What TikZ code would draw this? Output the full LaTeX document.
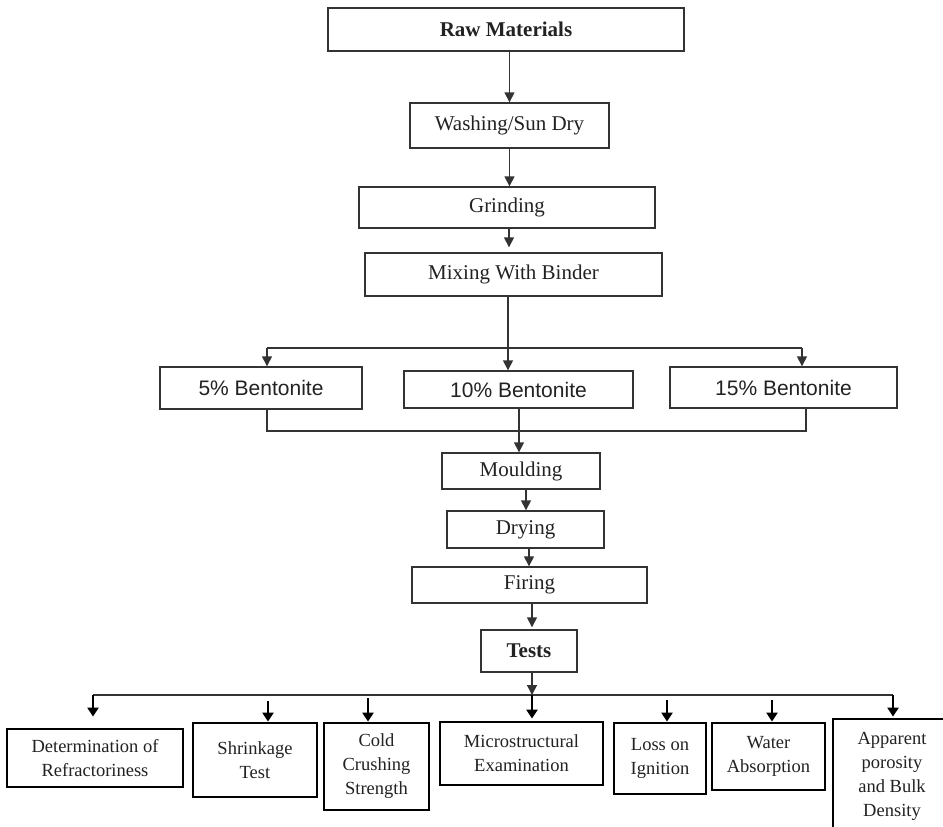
\documentclass[tikz,border=0pt]{standalone}
\usepackage{fontspec}
\setmainfont{Liberation Serif}
\newfontfamily\arialf{Liberation Sans}
\usetikzlibrary{arrows.meta}
\definecolor{ink}{HTML}{222222}
\definecolor{lin}{HTML}{333333}
\begin{document}
\begin{tikzpicture}[x=1pt,y=-1pt,
  topbox/.style={draw=lin, line width=1.4pt, inner sep=0pt, text=ink, font=\fontsize{21}{25}\selectfont},
  bentbox/.style={topbox, font=\arialf\fontsize{21}{25}\selectfont},
  testbox/.style={draw=black, line width=2.8pt, inner sep=0pt, align=center, text=ink, font=\fontsize{18.5}{24}\selectfont},
  conn/.style={draw=lin, line width=1.5pt},
  arr/.style={conn, -{Triangle[length=10pt,width=10pt]}},
  tarr/.style={draw=black, line width=2.8pt, -{Triangle[length=9pt,width=11pt]}}]
\useasboundingbox (0,0) rectangle (943,827);
\clip (0,0) rectangle (943,827);
\fill[white] (0,0) rectangle (943,827);
% process boxes
\node[topbox, minimum width=356pt, minimum height=43pt] (raw) at (506,29.5) {\textbf{Raw Materials}};
\node[topbox, minimum width=199pt, minimum height=45pt] (wash) at (509.5,125.5) {Washing/Sun Dry};
\node[topbox, minimum width=296pt, minimum height=41pt] (grind) at (507,207.5) {Grinding};
\node[topbox, minimum width=297pt, minimum height=43pt] (mix) at (513.5,274.5) {Mixing With Binder};
\node[bentbox, minimum width=202pt, minimum height=42pt] (b5) at (261,388) {5\% Bentonite};
\node[bentbox, minimum width=229pt, minimum height=37pt] (b10) at (518.5,389.5) {10\% Bentonite};
\node[bentbox, minimum width=227pt, minimum height=41pt] (b15) at (783.5,387.5) {15\% Bentonite};
\node[topbox, minimum width=158pt, minimum height=36pt] (mould) at (521,471) {Moulding};
\node[topbox, minimum width=157pt, minimum height=37pt] (dry) at (525.5,529.5) {Drying};
\node[topbox, minimum width=235pt, minimum height=36pt] (fire) at (529.5,585) {Firing};
\node[topbox, minimum width=96pt, minimum height=42pt] (tests) at (529,651) {\textbf{Tests}};
% test boxes
\node[testbox, minimum width=176pt, minimum height=58pt] (det) at (95,758) {Determination of\\Refractoriness};
\node[testbox, minimum width=124pt, minimum height=74pt] (shr) at (255,760) {Shrinkage\\Test};
\node[testbox, minimum width=105pt, minimum height=87pt] (cold) at (376.5,766.5) {Cold\\Crushing\\Strength};
\node[testbox, minimum width=163pt, minimum height=63pt] (micro) at (521.5,753.5) {Microstructural\\Examination};
\node[testbox, minimum width=92pt, minimum height=71pt] (loss) at (660,758.5) {Loss on\\Ignition};
\node[testbox, minimum width=113pt, minimum height=67pt] (water) at (768.5,756.5) {Water\\Absorption};
\node[testbox, minimum width=118pt, minimum height=114pt] (app) at (892,776) {Apparent\\porosity\\and Bulk\\Density};
% upper flow
\coordinate (xg) at (509,0);
\draw[arr] (raw.south -| wash.north) -- (wash.north);
\draw[arr] (wash.south) -- (wash.south |- grind.north);
\draw[arr, shorten >=5pt] (grind.south -| xg) -- (xg |- mix.north);
% split to bentonite
\coordinate (split) at (508,348);
\coordinate (s5) at (267,348);
\coordinate (s15) at (802,348);
\draw[conn] (mix.south -| split) -- (split);
\draw[conn] (s5) -- (s15);
\draw[arr] (s5) -- (s5 |- b5.north);
\draw[arr] (split) -- (split |- b10.north);
\draw[arr] (s15) -- (s15 |- b15.north);
% merge
\coordinate (m5) at (267,431);
\coordinate (m15) at (806,431);
\draw[conn] (b5.south -| m5) -- (m5) -- (m15) -- (b15.south -| m15);
\coordinate (m10) at (519,431);
\draw[arr] (b10.south -| m10) -- (m10 |- mould.north);
% lower flow
\coordinate (xa) at (526,0);
\coordinate (xb) at (529,0);
\coordinate (xc) at (532,0);
\draw[arr] (mould.south -| xa) -- (xa |- dry.north);
\draw[arr] (dry.south -| xb) -- (xb |- fire.north);
\draw[arr, shorten >=2pt] (fire.south -| xc) -- (xc |- tests.north);
% tests distribution
\coordinate (bar) at (532,695);
\coordinate (bl) at (93,695);
\coordinate (br) at (893,695);
\draw[arr] (tests.south -| bar) -- (bar);
\draw[conn] (bl) -- (br);
\draw[tarr, shorten >=11pt] (bl) -- (bl |- det.north);
\draw[tarr, shorten >=2pt] (bar) -- (bar |- micro.north);
\draw[tarr, shorten >=1pt] (br) -- (br |- app.north);
\coordinate (f2) at (268,701);
\coordinate (f3) at (368,698);
\coordinate (f5) at (667,700);
\coordinate (f6) at (772,700);
\draw[tarr] (f2) -- (f2 |- shr.north);
\draw[tarr] (f3) -- (f3 |- cold.north);
\draw[tarr] (f5) -- (f5 |- loss.north);
\draw[tarr] (f6) -- (f6 |- water.north);
\end{tikzpicture}
\end{document}
